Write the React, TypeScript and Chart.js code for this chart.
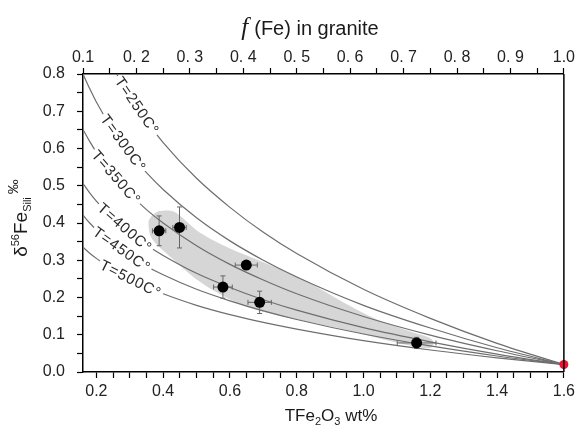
import React, { useEffect, useRef } from 'react';
import { Chart, registerables } from 'chart.js';

Chart.register(...registerables);

// TFe2O3 (wt%) sample positions along the Rayleigh curves
const TFE_GRID = [0.16, 0.18, 0.2, 0.25, 0.3, 0.35, 0.4, 0.5, 0.6, 0.7, 0.8, 1.0, 1.2, 1.4, 1.6];
const CURVE_250 = [1.01, 0.96, 0.914, 0.818, 0.74, 0.674, 0.616, 0.52, 0.442, 0.375, 0.318, 0.222, 0.144, 0.077, 0.02];
const CURVE_300 = [0.8, 0.761, 0.725, 0.649, 0.587, 0.535, 0.49, 0.414, 0.352, 0.3, 0.255, 0.179, 0.118, 0.065, 0.02];
const CURVE_350 = [0.651, 0.619, 0.59, 0.529, 0.479, 0.436, 0.4, 0.339, 0.289, 0.247, 0.21, 0.149, 0.099, 0.057, 0.02];
const CURVE_400 = [0.506, 0.481, 0.459, 0.412, 0.373, 0.341, 0.313, 0.265, 0.227, 0.194, 0.166, 0.119, 0.081, 0.048, 0.02];
const CURVE_450 = [0.421, 0.4, 0.382, 0.343, 0.311, 0.284, 0.261, 0.222, 0.191, 0.164, 0.141, 0.102, 0.07, 0.043, 0.02];
const CURVE_500 = [0.335, 0.319, 0.305, 0.274, 0.249, 0.228, 0.21, 0.179, 0.154, 0.133, 0.115, 0.084, 0.059, 0.038, 0.02];
const CURVES = [CURVE_250, CURVE_300, CURVE_350, CURVE_400, CURVE_450, CURVE_500];
const CURVE_NAMES = ['T=250C°', 'T=300C°', 'T=350C°', 'T=400C°', 'T=450C°', 'T=500C°'];
const LABEL_AT = [0.32, 0.279, 0.258, 0.284, 0.275, 0.302];

// granite samples
const SAMPLE_X = [0.388, 0.449, 0.649, 0.579, 0.689, 1.159];
const SAMPLE_Y = [0.379, 0.388, 0.287, 0.228, 0.187, 0.078];
const SAMPLE_XERR = [0.02, 0.02, 0.033, 0.028, 0.035, 0.058];
const SAMPLE_YERR = [0.04, 0.055, 0, 0.03, 0.03, 0.015];

// initial melt
const SOURCE_X = [1.6];
const SOURCE_Y = [0.02];

// gray field outline
const FIELD_X = [0.365, 0.388, 0.433, 0.507, 0.597, 0.686, 0.805, 0.954, 1.043, 1.142, 1.198, 1.21,
  1.198, 1.103, 0.954, 0.805, 0.686, 0.597, 0.507, 0.412, 0.365, 0.356, 0.365];
const FIELD_Y = [0.419, 0.432, 0.43, 0.376, 0.333, 0.3, 0.255, 0.18, 0.14, 0.108, 0.092, 0.078,
  0.064, 0.078, 0.112, 0.14, 0.165, 0.196, 0.244, 0.317, 0.36, 0.403, 0.419];

// ticks
const X_TICKS = [0.2, 0.25, 0.3, 0.35, 0.4, 0.45, 0.5, 0.55, 0.6, 0.65, 0.7, 0.75, 0.8, 0.85, 0.9, 0.95,
  1.0, 1.05, 1.1, 1.15, 1.2, 1.25, 1.3, 1.35, 1.4, 1.45, 1.5, 1.55, 1.6];
const X_TICK_LABELS = ['0.2', '0.4', '0.6', '0.8', '1.0', '1.2', '1.4', '1.6'];
const Y_TICKS = [0, 0.05, 0.1, 0.15, 0.2, 0.25, 0.3, 0.35, 0.4, 0.45, 0.5, 0.55, 0.6, 0.65, 0.7, 0.75, 0.8];
const Y_TICK_LABELS = ['0.0', '0.1', '0.2', '0.3', '0.4', '0.5', '0.6', '0.7', '0.8'];
const F_TICKS = [0.1, 0.15, 0.2, 0.25, 0.3, 0.35, 0.4, 0.45, 0.5, 0.55, 0.6, 0.65, 0.7, 0.75, 0.8, 0.85, 0.9, 0.95, 1.0];
const F_TICK_LABELS = ['0.1', '0. 2', '0. 3', '0. 4', '0. 5', '0. 6', '0. 7', '0. 8', '0. 9', '1.0'];

const SANS = '"Liberation Sans", Arial, sans-serif';
const LABEL_FONT = '15px ' + SANS;
const CURVE_FIRST = 1;
const SAMPLE_INDEX = 7;

function majorLabel(v: number, start: number, step: number, labels: string[]) {
  const k = (v - start) / step;
  const r = Math.round(k);
  return Math.abs(k - r) < 1e-6 && r >= 0 && r < labels.length ? labels[r] : '';
}

function interp(xs: number[], ys: number[], x: number) {
  for (let i = 0; i < xs.length - 1; i++) {
    if (x >= xs[i] && x <= xs[i + 1]) {
      const t = (x - xs[i]) / (xs[i + 1] - xs[i]);
      return ys[i] + t * (ys[i + 1] - ys[i]);
    }
  }
  return ys[ys.length - 1];
}

function labelGeom(chart: any, k: number) {
  const xs = chart.scales.x, ys = chart.scales.y;
  const xv = LABEL_AT[k];
  const c = CURVES[k];
  const cx = xs.getPixelForValue(xv), cy = ys.getPixelForValue(interp(TFE_GRID, c, xv));
  const x1 = xs.getPixelForValue(xv - 0.012), y1 = ys.getPixelForValue(interp(TFE_GRID, c, xv - 0.012));
  const x2 = xs.getPixelForValue(xv + 0.012), y2 = ys.getPixelForValue(interp(TFE_GRID, c, xv + 0.012));
  return { cx, cy, angle: Math.atan2(y2 - y1, x2 - x1) };
}

const curveGapPlugin = {
  id: 'curveGaps',
  beforeDatasetDraw(chart: any, args: any) {
    if (args.index < CURVE_FIRST || args.index >= CURVE_FIRST + CURVES.length) return;
    const ctx = chart.ctx;
    ctx.save();
    ctx.beginPath();
    ctx.rect(0, 0, chart.width, chart.height);
    ctx.font = LABEL_FONT;
    (ctx as any).letterSpacing = '1px';
    CURVE_NAMES.forEach((name, k) => {
      const g = labelGeom(chart, k);
      const w = ctx.measureText(name).width + 4;
      ctx.save();
      ctx.translate(g.cx, g.cy);
      ctx.rotate(g.angle);
      ctx.rect(-w / 2, -6, w, 12);
      ctx.restore();
    });
    (ctx as any).letterSpacing = '0px';
    ctx.clip('evenodd');
  },
  afterDatasetDraw(chart: any, args: any) {
    if (args.index < CURVE_FIRST || args.index >= CURVE_FIRST + CURVES.length) return;
    chart.ctx.restore();
  },
  afterDatasetsDraw(chart: any) {
    const ctx = chart.ctx;
    ctx.save();
    ctx.font = LABEL_FONT;
    (ctx as any).letterSpacing = '1px';
    ctx.fillStyle = '#2a2a2a';
    ctx.textAlign = 'center';
    ctx.textBaseline = 'middle';
    CURVE_NAMES.forEach((name, k) => {
      const g = labelGeom(chart, k);
      ctx.save();
      ctx.translate(g.cx, g.cy);
      ctx.rotate(g.angle);
      ctx.fillText(name, 0, 0);
      ctx.restore();
    });
    ctx.restore();
  },
};

const errorBarPlugin = {
  id: 'errorBars',
  beforeDatasetDraw(chart: any, args: any) {
    if (args.index !== SAMPLE_INDEX) return;
    const ctx = chart.ctx, xs = chart.scales.x, ys = chart.scales.y;
    ctx.save();
    ctx.strokeStyle = '#666';
    ctx.lineWidth = 1;
    const cap = 2.5;
    SAMPLE_X.forEach((x, i) => {
      const y = SAMPLE_Y[i];
      const px = xs.getPixelForValue(x), py = ys.getPixelForValue(y);
      ctx.beginPath();
      if (SAMPLE_XERR[i] > 0) {
        const l = xs.getPixelForValue(x - SAMPLE_XERR[i]), r = xs.getPixelForValue(x + SAMPLE_XERR[i]);
        ctx.moveTo(l, py); ctx.lineTo(r, py);
        ctx.moveTo(l, py - cap); ctx.lineTo(l, py + cap);
        ctx.moveTo(r, py - cap); ctx.lineTo(r, py + cap);
      }
      if (SAMPLE_YERR[i] > 0) {
        const t = ys.getPixelForValue(y + SAMPLE_YERR[i]), b = ys.getPixelForValue(y - SAMPLE_YERR[i]);
        ctx.moveTo(px, t); ctx.lineTo(px, b);
        ctx.moveTo(px - cap, t); ctx.lineTo(px + cap, t);
        ctx.moveTo(px - cap, b); ctx.lineTo(px + cap, b);
      }
      ctx.stroke();
    });
    ctx.restore();
  },
};

const titlePlugin = {
  id: 'titles',
  afterDraw(chart: any) {
    const ctx = chart.ctx;
    const area = chart.chartArea;
    ctx.save();
    ctx.fillStyle = '#1a1a1a';
    ctx.textBaseline = 'alphabetic';
    ctx.textAlign = 'left';

    // right frame line
    ctx.strokeStyle = '#000';
    ctx.lineWidth = 1.5;
    ctx.beginPath();
    ctx.moveTo(area.right, area.top);
    ctx.lineTo(area.right, area.bottom);
    ctx.stroke();

    // top title: f (Fe) in granite
    const fFont = 'italic 25px "Liberation Serif", serif';
    const restFont = '20px ' + SANS;
    const rest = '(Fe) in granite';
    ctx.font = fFont;
    const fw = ctx.measureText('f').width;
    ctx.font = restFont;
    const rw = ctx.measureText(rest).width;
    const gap = 6;
    let x0 = 310 - (fw + gap + rw) / 2;
    ctx.font = fFont;
    ctx.fillText('f', x0, 35);
    ctx.font = restFont;
    ctx.fillText(rest, x0 + fw + gap, 35);

    // bottom title: TFe2O3 wt%
    const parts: [string, number, number][] = [
      ['TFe', 17, 0], ['2', 11, 4], ['O', 17, 0], ['3', 11, 4], [' wt%', 17, 0],
    ];
    let tw = 0;
    parts.forEach(([s, sz]) => { ctx.font = sz + 'px ' + SANS; tw += ctx.measureText(s).width; });
    let bx = 331 - tw / 2;
    parts.forEach(([s, sz, dy]) => {
      ctx.font = sz + 'px ' + SANS;
      ctx.fillText(s, bx, 421 + dy);
      bx += ctx.measureText(s).width;
    });

    // y title: δ56Fe Sili ‰ (rotated)
    const yparts: [string, number, number][] = [
      ['δ', 19, 0], ['56', 11, -8], ['Fe', 19, 0], ['Sili', 11, 4], [' ', 11, 0], ['‰', 15, -9],
    ];
    let yw = 0;
    yparts.forEach(([s, sz]) => { ctx.font = sz + 'px ' + SANS; yw += ctx.measureText(s).width; });
    ctx.translate(27, 218);
    ctx.rotate(-Math.PI / 2);
    let lx = -yw / 2;
    yparts.forEach(([s, sz, dy]) => {
      ctx.font = sz + 'px ' + SANS;
      ctx.fillText(s, lx, dy);
      lx += ctx.measureText(s).width;
    });
    ctx.restore();
  },
};

export default function App() {
  const canvasRef = useRef<HTMLCanvasElement | null>(null);

  useEffect(() => {
    const canvas = canvasRef.current;
    if (!canvas) return;

    const curveSets = CURVES.map((c) => ({
      type: 'scatter',
      data: TFE_GRID.map((x, i) => ({ x, y: c[i] })),
      showLine: true,
      borderColor: '#6e6e6e',
      borderWidth: 1.2,
      pointRadius: 0,
      cubicInterpolationMode: 'monotone',
      fill: false,
      order: 5,
    }));

    const axisCommon = {
      grid: { drawOnChartArea: false, drawTicks: true, tickLength: 6, tickColor: '#000', tickWidth: 1.2 },
      border: { display: true, color: '#000', width: 1.5 },
    };

    const chart = new Chart(canvas, {
      type: 'scatter',
      data: {
        datasets: [
          {
            data: FIELD_X.map((x, i) => ({ x, y: FIELD_Y[i] })),
            showLine: true,
            borderWidth: 0,
            borderColor: 'rgba(0,0,0,0)',
            backgroundColor: '#d6d6d6',
            pointRadius: 0,
            tension: 0.3,
            fill: 'shape',
            order: 10,
          },
          ...curveSets,
          {
            data: SAMPLE_X.map((x, i) => ({ x, y: SAMPLE_Y[i] })),
            pointRadius: 5.5,
            pointBackgroundColor: '#000',
            pointBorderColor: '#000',
            pointBorderWidth: 0,
            showLine: false,
            order: 1,
          },
          {
            data: SOURCE_X.map((x, i) => ({ x, y: SOURCE_Y[i] })),
            pointRadius: 4.5,
            pointBackgroundColor: '#ee1133',
            pointBorderColor: '#ee1133',
            pointBorderWidth: 0,
            showLine: false,
            clip: false,
            order: 0,
          },
        ] as any,
      },
      options: {
        animation: false,
        responsive: false,
        devicePixelRatio: 1,
        layout: { padding: { left: 0, right: 13, top: 0, bottom: 0 } },
        plugins: { legend: { display: false }, tooltip: { enabled: false }, title: { display: false } },
        events: [],
        scales: {
          x: {
            type: 'linear',
            position: 'bottom',
            min: 0.16,
            max: 1.6,
            ...axisCommon,
            afterBuildTicks: (s: any) => { s.ticks = X_TICKS.map((v) => ({ value: v })); },
            afterFit: (s: any) => { s.height = 55; },
            ticks: {
              autoSkip: false,
              maxRotation: 0,
              minRotation: 0,
              padding: 4,
              color: '#222',
              font: { family: SANS, size: 16 },
              callback: (v: any) => majorLabel(Number(v), 0.2, 0.2, X_TICK_LABELS),
            },
          },
          x2: {
            type: 'linear',
            position: 'top',
            min: 0.1,
            max: 1.0,
            ...axisCommon,
            afterBuildTicks: (s: any) => { s.ticks = F_TICKS.map((v) => ({ value: v })); },
            afterFit: (s: any) => { s.height = 74; },
            ticks: {
              autoSkip: false,
              maxRotation: 0,
              minRotation: 0,
              padding: 1,
              color: '#222',
              font: { family: SANS, size: 16 },
              callback: (v: any) => majorLabel(Number(v), 0.1, 0.1, F_TICK_LABELS),
            },
          },
          y: {
            type: 'linear',
            position: 'left',
            min: 0,
            max: 0.8,
            ...axisCommon,
            afterBuildTicks: (s: any) => { s.ticks = Y_TICKS.map((v) => ({ value: v })); },
            afterFit: (s: any) => { s.width = 83; },
            ticks: {
              autoSkip: false,
              padding: 12,
              color: '#222',
              font: { family: SANS, size: 16 },
              callback: (v: any) => majorLabel(Number(v), 0, 0.1, Y_TICK_LABELS),
            },
          },
        },
      } as any,
      plugins: [curveGapPlugin, errorBarPlugin, titlePlugin],
    });

    return () => chart.destroy();
  }, []);

  return (
    <div style={{ position: 'absolute', left: 0, top: 0, width: 579, height: 427, background: '#fff' }}>
      <canvas ref={canvasRef} width={579} height={427} style={{ display: 'block' }} />
    </div>
  );
}
